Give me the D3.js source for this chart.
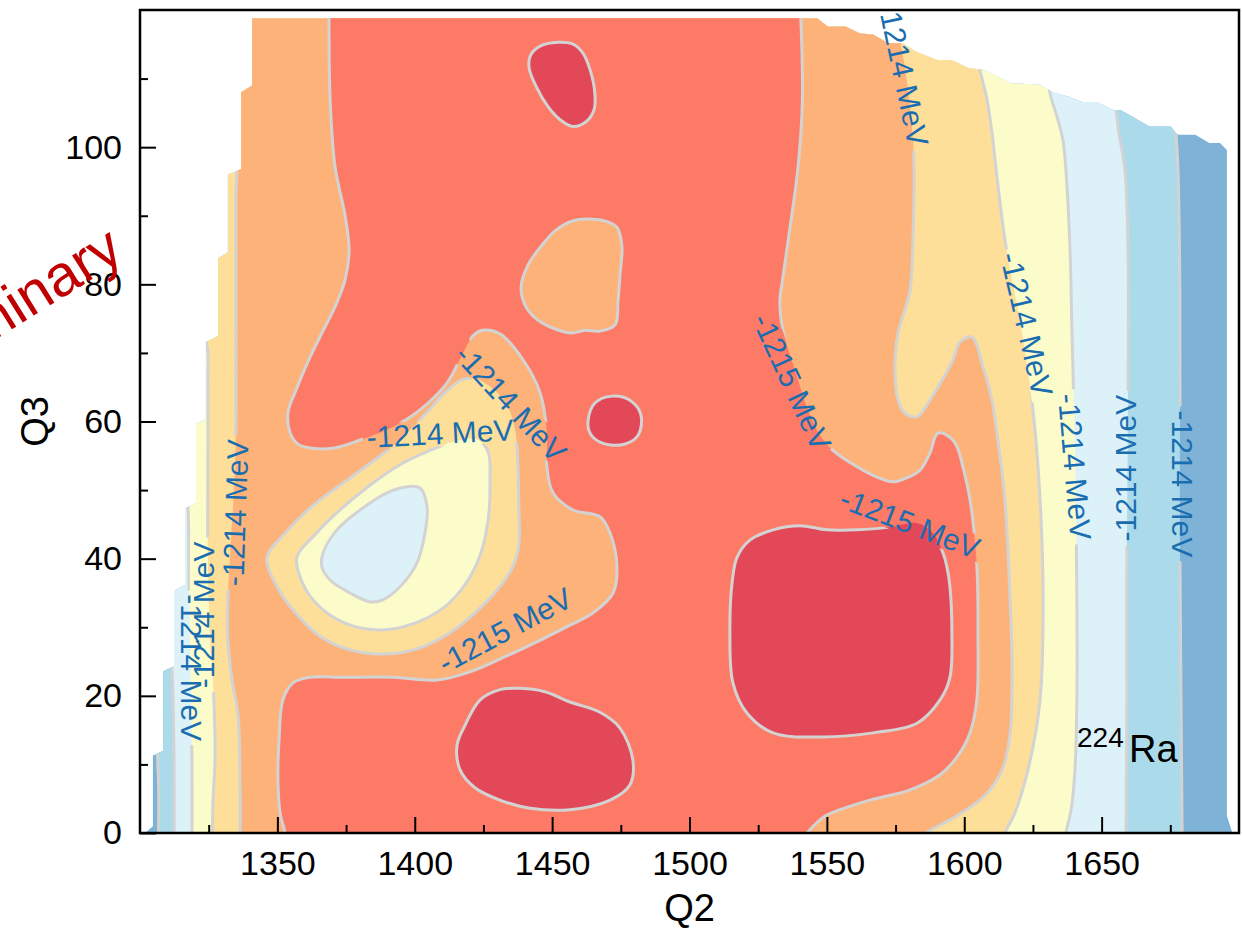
<!DOCTYPE html>
<html>
<head>
<meta charset="utf-8">
<script src="https://cdn.jsdelivr.net/npm/d3@7"></script>
<style>
  html, body { margin: 0; padding: 0; background: #ffffff; }
  svg { display: block; font-family: "Liberation Sans", Arial, Helvetica, sans-serif; }
</style>
</head>
<body>
<svg id="chart" width="1242" height="929"></svg>
<script>
// ---------------------------------------------------------------
// Potential energy surface of 224Ra in the (Q2, Q3) plane.
// Every contour is given as a list of [Q2, Q3] points.
// ---------------------------------------------------------------

// Extent of the computed grid (staircase edges where the mesh stops)
const gridLeftEdge = [[1301.8,0],[1304.7,1],[1304.7,11.3],[1308.4,12],[1308.4,23.6],[1312.7,24.4],[1312.7,35.4],[1316.7,36.2],[1316.7,47.4],[1320.4,48.1],[1320.4,59.6],[1324,60.4],[1324,71.6],[1328.4,72.5],[1328.4,83.8],[1332,84.7],[1332,96],[1336.8,96.8],[1336.8,108],[1340.8,109],[1340.8,118.8]];
const gridTopEdge = [[1546.5,118.8],[1550.3,117.6],[1556.8,117.6],[1561.9,116.6],[1567,116.4],[1572.2,115.2],[1577.3,115.2],[1582.5,113.9],[1590.2,112.7],[1595.4,112.7],[1601.8,111.5],[1606.9,111.3],[1612.1,110.3],[1617.2,109.3],[1627.5,109.1],[1632.7,107.9],[1637.8,107.4],[1642.9,106.6],[1648.1,106.6],[1654.5,105.4],[1657.1,105.4],[1662.2,104.2],[1667.4,103],[1675.1,103],[1677.7,101.8],[1684.1,101.8],[1689.2,100.6],[1693.1,100.6],[1695.6,99.6]];
const gridRightEdge = [[1695.6,2.5],[1697.6,0]];

// Level 1 (deepest): closed minima
const c1TopOval   = [[1452.1,115.3],[1457.2,115.1],[1460.9,113.9],[1463.8,111.3],[1465.6,107.6],[1465.2,105.4],[1462.3,103.7],[1457.6,103],[1452.9,104],[1448.5,105.9],[1444.5,108.6],[1441.6,111.6],[1442.3,113.5],[1446,114.8]];
const c1SmallOval = [[1463.1,60.2],[1465.6,62.7],[1471.8,63.7],[1478.3,63.1],[1482.3,61],[1481.3,58],[1475.4,56.6],[1467.4,57],[1463.8,58.3]];
const c1LowBlob   = [[1418.3,15.7],[1423.8,19.4],[1431,20.9],[1438.3,21.1],[1447.4,20.6],[1456.5,19.1],[1467.4,17.6],[1474.7,15.3],[1479.4,10.6],[1478.3,7],[1471.1,4.8],[1456.5,3.4],[1442,3.6],[1431,4.8],[1421.9,6.6],[1416.5,9.2],[1415.4,12.8]];
const c1BigBasin  = [[1550,44.2],[1540.2,44.8],[1530.4,44.2],[1522,42.7],[1517.3,40.2],[1515.5,36.5],[1514.7,29.2],[1515.8,21.9],[1520.9,17.5],[1530.4,14.6],[1548.6,14],[1566.8,14.6],[1582.8,16],[1591.2,19.4],[1594.8,22.7],[1595.5,29.2],[1594.8,35.9],[1593.7,38.8],[1592.3,40.8],[1588.6,43.7],[1582.8,45.2],[1573,44.6],[1561,44.2]];

// Level 2
const c2Left   = [[1368.8,122],[1369.2,106.9],[1371,97.1],[1374.6,90.1],[1376.1,85],[1374.6,80.6],[1371.3,77],[1366.2,72.9],[1361.1,68.7],[1356.8,64.6],[1353.9,61.4],[1354.6,58.4],[1357.5,56.7],[1362.6,56.1],[1370.2,56.1],[1380.1,57.3],[1392.1,59.2],[1401.9,61.7],[1411.7,65.6],[1417.6,70],[1421.2,72.5],[1424.5,73.3],[1431,72.8],[1439.4,69],[1445.6,64.2],[1448.1,58.3],[1448.1,53.4],[1450.3,49.6],[1457.6,47.1],[1467.4,46.1],[1471.1,43.7],[1473.6,38.8],[1472.2,35],[1464.9,32.1],[1456.5,30.3],[1445.6,28.1],[1432.8,25.7],[1420.1,23.5],[1408.1,22.3],[1392.1,22.7],[1373.9,22.7],[1361.9,22.7],[1355.7,21.9],[1352,19.4],[1350.6,13.6],[1350.2,7.7],[1351,2.9],[1352.8,0],[1353.5,-2.5]];
const c2Right  = [[1540.2,122],[1541.1,106.9],[1539.5,97.1],[1536.3,87.5],[1533.7,80.2],[1532.9,77.7],[1534,73.3],[1538.4,67.5],[1543.1,61.7],[1547.5,58],[1552.2,55.8],[1561,53.4],[1568.2,51.9],[1574.1,51.2],[1579.1,51.8],[1583.9,52.9],[1587.5,55.4],[1590.4,58.3],[1594.8,57.7],[1597.4,56.3],[1599.5,53.4],[1602.1,48.6],[1604.6,38.8],[1605,29.2],[1604.6,19.4],[1602.1,14.6],[1597.4,11.1],[1591.2,8.5],[1580.3,6.3],[1565.7,4.8],[1554.8,3.4],[1549.5,2.5],[1542.8,0],[1538.4,-2.5]];
const c2Island = [[1464.5,89.5],[1470.3,89.1],[1473.6,88.3],[1475.4,85.5],[1474.7,81.4],[1474,77.7],[1472.9,74.1],[1467.4,73.2],[1462,73.3],[1456.9,72.9],[1449.2,73.8],[1443.8,75.1],[1440.1,77],[1438.7,79.6],[1441.2,82.8],[1446.3,85.7],[1451.4,87.9],[1457.2,89.2]];

// Level 3
const c3Left  = [[1336.4,-4],[1336.4,7.7],[1335.7,17.2],[1333.5,22.3],[1332,28.1],[1332,34],[1333.1,42.7],[1334.6,52.9],[1334.9,60.2],[1334.9,77.7],[1334.9,92.3],[1334.9,98.1],[1332.8,99.6]];
const c3Right = [[1575.2,121.5],[1576.7,115.6],[1578.4,111.7],[1580.6,104.4],[1581.7,98.1],[1581.4,87.5],[1580.3,79.2],[1578.4,76.3],[1575.9,72.9],[1574.8,68],[1575.9,63.1],[1578.4,61.2],[1582.8,60.7],[1587.5,63.1],[1592.3,66.3],[1595.9,69],[1598.5,71.6],[1602.8,72.3],[1606.8,68],[1610.1,63.1],[1611.9,58.3],[1614.8,48.6],[1616.7,34],[1617.4,24.2],[1616.7,14.6],[1614.1,9.5],[1607.6,5.5],[1597.7,2.6],[1586.1,0],[1578.4,-2.5]];
const c3Loop  = [[1346.2,40.2],[1352.8,43.7],[1361.9,47.4],[1372.8,50.7],[1384.4,54.1],[1394.6,57.3],[1403.7,61],[1411,64.2],[1417.2,66.1],[1422.3,66.2],[1428.1,64.9],[1433.6,62.4],[1436.5,58.8],[1437.6,52.9],[1437.9,47.1],[1437.9,42],[1435.4,38.6],[1429.9,35.4],[1421.9,32.1],[1412.8,29.2],[1401.9,27],[1389.2,26.1],[1376.4,26.7],[1365.5,28.7],[1356.4,32.2],[1349.5,36.2]];

// Level 4
const c4Left  = [[1326.2,-4],[1326.6,4.8],[1327.3,10.6],[1326.9,19.4],[1325.5,28.1],[1324.7,39.8],[1324.7,55.8],[1324.7,66.1],[1324.4,71],[1321.8,73.3]];
const c4Right = [[1602.8,121.5],[1605,112.7],[1608.3,106.9],[1610.1,102.1],[1611.6,96.7],[1614.8,86.5],[1617.4,80.6],[1620.3,74.8],[1625,61.7],[1627.6,48.6],[1628.7,34],[1627.6,19.4],[1623.2,9.2],[1618.1,2.6],[1614.8,0],[1612.3,-3.9]];
const c4Loop  = [[1357.1,40.2],[1363.7,43.5],[1372.8,47.1],[1383.7,50.7],[1394.6,53.7],[1405.6,55.8],[1416.5,57.3],[1423,57.3],[1426.7,55.6],[1427.4,51.5],[1426.7,45.6],[1423.8,40.5],[1418.3,36.2],[1411,33],[1400.1,30.6],[1387.4,29.6],[1374.6,30.6],[1364.8,33.2],[1359,36.6]];

// Level 5
const c5Left  = [[1318.9,-4],[1318.9,10.6],[1318.6,19.4],[1318.2,28.1],[1317.8,36.9],[1317.5,47.1],[1316.7,50],[1310.9,51.5]];
const c5Right = [[1629.8,112.7],[1631.2,107.9],[1633.8,104.4],[1635.9,101.1],[1637,96.7],[1638.5,85],[1639.2,73.3],[1640.3,55.8],[1641,34],[1641,19.4],[1640.3,9.2],[1638.9,3.4],[1637,0],[1635.6,-3.9]];
const c5Loop  = [[1366.6,40.8],[1371.7,44.2],[1380.1,47.1],[1389.9,49.6],[1397.2,50.5],[1401.9,50.3],[1404.5,47.5],[1403.7,43.7],[1400.8,39.4],[1394.6,35.9],[1388.4,34],[1383.7,33.7],[1376.4,35],[1369.2,36.9],[1366.2,38.8]];

// Level 6
const c6Left  = [[1312.4,-4],[1312.4,10.6],[1312,19.4],[1311.6,23.8],[1310.2,26.7],[1303.6,28.1]];
const c6Right = [[1653.1,110],[1655.2,105.4],[1656.3,102.1],[1658.5,96.7],[1659.6,85],[1659.6,63.1],[1659.2,41.3],[1659.2,19.4],[1658.9,0],[1658.9,-4]];

// Level 7
const c7Left  = [[1306.6,-4],[1306.6,9],[1305.5,12.8],[1300,15]];
const c7Right = [[1675.6,110],[1677.1,101.8],[1677.8,96.7],[1678.5,77.7],[1678.5,41.3],[1678.9,19.4],[1679.3,0],[1679.3,-4]];

// Inline contour labels: anchor [Q2, Q3], text, angle
const labelPos = [[1578.0,110.7],[1622.8,74.2],[1640.3,53.4],[1658.5,53.2],[1679.6,50.9],[1537.3,65.8],[1580.3,45.2],[1409.2,58.3],[1435.0,62.7],[1432.8,29.6],[1334.6,46.7],[1322.9,31.8],[1318.9,24.1]];
const labelText = ["-1214 MeV","-1214 MeV","-1214 MeV","-1214 MeV","-1214 MeV","-1215 MeV","-1215 MeV","-1214 MeV","-1214 MeV","-1215 MeV","-1214 MeV","-1214 MeV","-1214 MeV"];
const labelAngle = [78,77,85,-90,90,65,21,-3,47,-28,-88,-90,90];

// Axis ticks
const xMajor = [1350,1400,1450,1500,1550,1600,1650];
const xMinor = [1325,1375,1425,1475,1525,1575,1625,1675];
const yMajor = [0,20,40,60,80,100];
const yMinor = [10,30,50,70,90,110];

// Band colours, lowest energy first
const bandColors = ["#e24858","#fd7b66","#fdb27a","#fddf9a","#fcfcca","#dcf2f8","#abdaea","#7eb2d6"];

// ---------------------------------------------------------------
const svg = d3.select("#chart");
const plot = {left: 140, right: 1239, top: 10, bottom: 833};

const x = d3.scaleLinear().domain([1300, 1700]).range([plot.left, plot.right]);
const y = d3.scaleLinear().domain([0, 120]).range([plot.bottom, plot.top]);

const openCurve   = d3.line().x(d => x(d[0])).y(d => y(d[1])).curve(d3.curveCatmullRom.alpha(0.5));
const closedCurve = d3.line().x(d => x(d[0])).y(d => y(d[1])).curve(d3.curveCatmullRomClosed.alpha(0.5));
const straight    = d3.line().x(d => x(d[0])).y(d => y(d[1]));

// join several path strings into one continuous outline
function chain(parts) {
  return parts.map((p, i) => i ? "L" + p.slice(1) : p).join("");
}
// region lying between a left and a right contour (plus enclosed holes)
function between(left, right, holes) {
  const lt = left[left.length - 1];
  const outer = chain([
    openCurve(right),
    openCurve(left),
    straight([[1290, lt[1]], [1290, 126], [right[0][0], 126]])
  ]) + "Z";
  return outer + holes.map(h => closedCurve(h)).join("");
}

const defs = svg.append("defs");
const gridOutline = [...gridLeftEdge, ...gridTopEdge, ...gridRightEdge];
defs.append("clipPath").attr("id", "gridClip")
  .append("path").attr("d", straight(gridOutline) + "Z");
defs.append("clipPath").attr("id", "axesClip")
  .append("rect").attr("x", plot.left).attr("y", plot.top)
  .attr("width", plot.right - plot.left).attr("height", plot.bottom - plot.top);
const gapMask = defs.append("mask").attr("id", "labelGaps")
  .attr("maskUnits", "userSpaceOnUse")
  .attr("x", 0).attr("y", 0).attr("width", 1242).attr("height", 929);
gapMask.append("rect").attr("width", 1242).attr("height", 929).attr("fill", "#fff");

// ---- filled bands ----
const fills = svg.append("g").attr("clip-path", "url(#gridClip)");
fills.append("rect")
  .attr("x", plot.left).attr("y", plot.top)
  .attr("width", plot.right - plot.left).attr("height", plot.bottom - plot.top)
  .attr("fill", bandColors[7]);

const salmonArea = chain([
  openCurve(c2Left),
  openCurve(c2Right.slice().reverse()),
  straight([[c2Right[0][0], 126], [c2Left[0][0], 126]])
]) + "Z" + closedCurve(c2Island);

const layers = [
  {fill: bandColors[6], d: between(c7Left, c7Right, [])},
  {fill: bandColors[5], d: between(c6Left, c6Right, [])},
  {fill: bandColors[4], d: between(c5Left, c5Right, [c5Loop])},
  {fill: bandColors[3], d: between(c4Left, c4Right, [c4Loop])},
  {fill: bandColors[2], d: between(c3Left, c3Right, [c3Loop])},
  {fill: bandColors[1], d: salmonArea},
  {fill: bandColors[0], d: [c1TopOval, c1SmallOval, c1LowBlob, c1BigBasin].map(l => closedCurve(l)).join("")}
];
fills.selectAll("path.band").data(layers).join("path")
  .attr("class", "band")
  .attr("d", d => d.d)
  .attr("fill", d => d.fill)
  .attr("fill-rule", "evenodd");

// ---- contour lines ----
const contourPaths = [
  ...[c1TopOval, c1SmallOval, c1LowBlob, c1BigBasin].map(l => closedCurve(l)),
  openCurve(c2Left), openCurve(c2Right), closedCurve(c2Island),
  openCurve(c3Left), openCurve(c3Right), closedCurve(c3Loop),
  openCurve(c4Left), openCurve(c4Right), closedCurve(c4Loop),
  openCurve(c5Left), openCurve(c5Right), closedCurve(c5Loop),
  openCurve(c6Left), openCurve(c6Right),
  openCurve(c7Left), openCurve(c7Right)
];
svg.append("g").attr("clip-path", "url(#gridClip)")
  .append("g").attr("mask", "url(#labelGaps)")
  .selectAll("path").data(contourPaths).join("path")
  .attr("d", d => d)
  .attr("fill", "none")
  .attr("stroke", "#d3d3d3")
  .attr("stroke-width", 3)
  .attr("stroke-linejoin", "round");

// ---- contour labels ----
const labelLayer = svg.append("g").attr("clip-path", "url(#axesClip)");
labelPos.forEach((p, i) => {
  const tx = x(p[0]), ty = y(p[1]);
  const t = labelLayer.append("text")
    .attr("transform", `translate(${tx},${ty}) rotate(${labelAngle[i]})`)
    .attr("text-anchor", "middle")
    .attr("dy", "0.36em")
    .attr("font-size", 30)
    .attr("fill", "#1a6db0")
    .text(labelText[i]);
  const w = t.node().getComputedTextLength();
  gapMask.append("rect")
    .attr("transform", `translate(${tx},${ty}) rotate(${labelAngle[i]})`)
    .attr("x", -w / 2 - 4).attr("y", -13)
    .attr("width", w + 8).attr("height", 26)
    .attr("fill", "#000");
});

// ---- axes ----
function styleAxis(g) {
  g.select(".domain").remove();
  g.attr("font-family", null).attr("font-size", 34);
  g.selectAll("line").attr("stroke", "#000").attr("stroke-width", 2);
  g.selectAll("text").attr("fill", "#000");
}
svg.append("g").attr("transform", `translate(0,${plot.bottom})`)
  .call(d3.axisBottom(x).tickValues(xMajor).tickSize(-16).tickPadding(18).tickFormat(d3.format("d")))
  .call(styleAxis);
svg.append("g").attr("transform", `translate(0,${plot.bottom})`)
  .call(d3.axisBottom(x).tickValues(xMinor).tickSize(-8).tickFormat(""))
  .call(styleAxis);
svg.append("g").attr("transform", `translate(${plot.left},0)`)
  .call(d3.axisLeft(y).tickValues(yMajor).tickSize(-16).tickPadding(18).tickFormat(d3.format("d")))
  .call(styleAxis);
svg.append("g").attr("transform", `translate(${plot.left},0)`)
  .call(d3.axisLeft(y).tickValues(yMinor).tickSize(-8).tickFormat(""))
  .call(styleAxis);

// frame
svg.append("rect")
  .attr("x", plot.left).attr("y", plot.top)
  .attr("width", plot.right - plot.left).attr("height", plot.bottom - plot.top)
  .attr("fill", "none").attr("stroke", "#000").attr("stroke-width", 2.5);

// axis titles
svg.append("text")
  .attr("x", (plot.left + plot.right) / 2).attr("y", 921)
  .attr("text-anchor", "middle").attr("font-size", 38).attr("fill", "#000")
  .text("Q2");
svg.append("text")
  .attr("transform", `translate(48,${(plot.top + plot.bottom) / 2}) rotate(-90)`)
  .attr("text-anchor", "middle").attr("font-size", 38).attr("fill", "#000")
  .text("Q3");

// nucleus tag
svg.append("text").attr("x", 1077).attr("y", 747)
  .attr("font-size", 28).attr("fill", "#000").text("224");
svg.append("text").attr("x", 1129).attr("y", 762)
  .attr("font-size", 38).attr("fill", "#000").text("Ra");

// watermark
svg.append("text")
  .attr("transform", "translate(126,258) rotate(-32)")
  .attr("text-anchor", "end")
  .attr("font-size", 58)
  .attr("fill", "#c00000")
  .text("Preliminary");
</script>
</body>
</html>
